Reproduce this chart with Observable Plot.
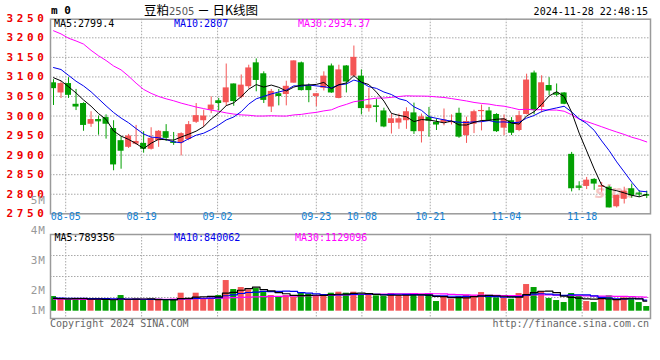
<!DOCTYPE html>
<html><head><meta charset="utf-8">
<script src="https://cdn.jsdelivr.net/npm/d3@7"></script>
<script src="https://cdn.jsdelivr.net/npm/@observablehq/plot@0.6"></script>
<style>
body{margin:0;background:#fff;}
#wrap{position:relative;width:660px;height:360px;overflow:hidden;background:#fff;font-family:"DejaVu Sans Mono",monospace;}
.t{position:absolute;white-space:nowrap;line-height:12px;height:12px;font-size:10px;}
.pl{position:absolute;left:0;top:0;}
</style></head><body><div id="wrap"></div>
<script>
// ---------- data ----------
const dates = ["08-01","08-02","08-05","08-06","08-07","08-08","08-09","08-12","08-13","08-14","08-15","08-16","08-19","08-20","08-21","08-22","08-23","08-26","08-27","08-28","08-29","08-30",
"09-02","09-03","09-04","09-05","09-06","09-09","09-10","09-11","09-12","09-13","09-18","09-19","09-20","09-23","09-24","09-25","09-26","09-27","09-30",
"10-08","10-09","10-10","10-11","10-14","10-15","10-16","10-17","10-18","10-21","10-22","10-23","10-24","10-25","10-28","10-29","10-30","10-31",
"11-01","11-04","11-05","11-06","11-07","11-08","11-11","11-12","11-13","11-14","11-15","11-18","11-19","11-20","11-21","11-22","11-25","11-26","11-27","11-28","11-29"];
const openP  = [3085,3059,3083,3030,3032,2979,2991,2996,2968,2937,2920,2928,2930,2915,2937,2960,2934,2931,2940,2984,2988,3015,3039,3034,3082,3048,3075,3136,3108,3023,3057,3055,3084,3136,3076,3050,3071,3128,3045,3128,3102,3102,3019,3026,3013,2981,2982,2988,3008,2960,2997,2984,2983,2983,3007,2950,2979,3012,3013,3004,2969,2988,2963,3004,3110,3022,3078,3059,3059,2902,2821,2820,2838,2819,2818,2768,2787,2814,2803,2799];
const closeP = [3070,3083,3053,3023,2976,2991,2988,2979,2875,2910,2949,2935,2915,2943,2961,2943,2930,2955,2978,3001,3000,3028,3032,3072,3037,3079,3123,3091,3040,3063,3050,3076,3141,3065,3065,3057,3102,3059,3118,3087,3150,3019,3028,3022,2972,2993,2993,3011,2960,2998,2987,2977,2990,2986,2946,2986,3011,3014,2988,2960,2992,2956,3001,3092,3014,3085,3064,3056,3030,2814,2818,2836,2826,2821,2765,2797,2808,2796,2801,2795];
const highP  = [3093,3088,3098,3068,3034,3011,3000,3003,2988,2947,2953,2976,2960,2970,2963,2978,2958,2957,2986,3032,3015,3049,3045,3133,3082,3105,3130,3146,3113,3068,3068,3089,3141,3138,3082,3057,3113,3133,3130,3129,3179,3118,3071,3043,3020,3005,3005,3021,3033,3005,3022,2993,3018,3003,3020,2997,3015,3028,3022,3006,3003,2996,3012,3107,3115,3103,3098,3082,3060,2907,2832,2843,2840,2830,2821,2798,2818,2826,2809,2808];
const lowP   = [3027,3045,3045,3014,2961,2971,2951,2941,2860,2864,2917,2926,2905,2913,2920,2935,2925,2898,2937,2981,2971,3006,3013,3025,3025,3044,3069,3062,3032,3009,3026,3026,3084,3064,3034,3024,3064,3058,3044,3059,3100,3003,3010,2983,2970,2954,2966,2966,2953,2931,2946,2963,2975,2977,2943,2930,2955,2962,2986,2958,2950,2950,2960,3003,3003,3008,3052,3049,3029,2806,2809,2812,2810,2805,2765,2765,2775,2790,2792,2789];
const volume = [1145800,937500,937500,937500,937500,989600,885400,833300,833300,1224000,885400,937500,885400,885400,937500,833300,885400,1406300,937500,1406300,
1015600,1015600,1224000,2395800,1692700,1849000,1666700,1770800,1458300,1224000,1145800,1224000,1093800,1380200,1328100,1197900,1197900,1406300,1484400,1406300,
1484400,1250000,1250000,1197900,1145800,1380200,1250000,1250000,1302100,1197900,1302100,755200,1145800,937500,1145800,1250000,1197900,1458300,1093800,1041700,
1041700,937500,1380200,2083300,1849000,1536500,989600,833300,677100,1380200,1197900,755200,677100,937500,1197900,937500,1041700,937500,677100,364600];
// moving-average values before enough history is on the chart
const ma5Head  = [3098,3090,3075,3059];
const ma10Head = [3124,3119,3104,3089,3077,3062,3044,3026,3009];
const ma30Head = [3218,3210,3199,3192,3184,3168,3154,3142,3128,3118,3102,3084,3068,3058,3050,3044,3039,3033,3028,3023,3019,3015,3012,3008,3005,3003,3002,3000,3000];
const vma5Head  = [1000000,980000,970000,975000];
const vma10Head = [1020000,1020000,1010000,1010000,1000000,990000,980000,975000,970000];
const vma30Head = [940000,940000,935000,935000,930000,930000,930000,925000,925000,925000,930000,930000,930000,935000,935000,935000,940000,950000,960000,975000,985000,995000,1010000,1040000,1060000,1085000,1105000,1125000,1140000];
const priceTicks = [3250,3200,3150,3100,3050,3000,2950,2900,2850,2800,2750];
const xTickLabels = ["08-05","08-19","09-02","09-23","10-08","10-21","11-04","11-18"];
const volTickLabels = ["4M","3M","2M","1M"];
const legendMain = ["MA5:2799.4","MA10:2807","MA30:2934.37"];
const legendVol = ["MA5:789356","MA10:840062","MA30:1129096"];

// ---------- build ----------
const RED = "#f45656", GREEN = "#02a002";
const N = dates.length;
const movingAvg = (vals, n, head) => vals.map((_, i) => i < n - 1 ? head[i] : d3.mean(vals.slice(i - n + 1, i + 1)));
const ma5 = movingAvg(closeP, 5, ma5Head), ma10 = movingAvg(closeP, 10, ma10Head), ma30 = movingAvg(closeP, 30, ma30Head);
const vma5 = movingAvg(volume, 5, vma5Head), vma10 = movingAvg(volume, 10, vma10Head), vma30 = movingAvg(volume, 30, vma30Head);
const data = dates.map((d, i) => ({i, date: d, o: openP[i], c: closeP[i], h: highP[i], l: lowP[i], v: volume[i],
  col: closeP[i] >= openP[i] ? RED : GREEN, ma5: ma5[i], ma10: ma10[i], ma30: ma30[i], vma5: vma5[i], vma10: vma10[i], vma30: vma30[i]}));
const xDomain = [-0.4, N - 0.5];
const slot = (xDomain[1] - xDomain[0]) / (N - 1);
const gx = lab => xDomain[0] + dates.indexOf(lab) * slot;  // grid position of a labelled date
const gridXs = xTickLabels.map(gx);
const dot = {stroke: "#a8a8a8", strokeDasharray: "1.5,1.5", strokeWidth: 1};
const HW = 0.4;

const main = Plot.plot({
  width: 660, height: 228, marginLeft: 50, marginRight: 10, marginTop: 18.7, marginBottom: 14.7,
  x: {domain: xDomain, axis: null},
  y: {domain: [2750, 3247.6], axis: null},
  style: {background: "transparent", overflow: "visible"},
  marks: [
    Plot.ruleY(priceTicks.filter(t => t > 2750 && t < 3247), dot),
    Plot.ruleX(gridXs, dot),
    Plot.text(["sina"], {text: d => d, frameAnchor: "bottom-right", dx: -16, dy: -16, fill: "#f3b3b3", fillOpacity: 0.75, fontSize: 17, fontStyle: "italic", fontWeight: "bold", fontFamily: "DejaVu Sans"}),
    Plot.ruleX(data, {x: "i", y1: "l", y2: "h", stroke: "col", strokeWidth: 1}),
    Plot.rect(data, {x1: d => d.i - HW, x2: d => d.i + HW, y1: "o", y2: "c", fill: "col"}),
    Plot.ruleY(data.filter(d => Math.abs(d.o - d.c) < 4), {y: "c", x1: d => d.i - HW, x2: d => d.i + HW, stroke: "col", strokeWidth: 1.2}),
    Plot.line(data, {x: "i", y: "ma30", stroke: "#ff00ff", strokeWidth: 1}),
    Plot.line(data, {x: "i", y: "ma10", stroke: "#0000ee", strokeWidth: 1}),
    Plot.line(data, {x: "i", y: "ma5", stroke: "#000", strokeWidth: 1}),
    Plot.frame({stroke: "#9a9a9a", strokeWidth: 1.5}),
    Plot.text(priceTicks, {y: d => d, text: d => String(d), frameAnchor: "left", dx: -3, textAnchor: "end", fill: "#ee0000", fontSize: 11, fontWeight: "bold", fontFamily: "DejaVu Sans Mono"}),
    Plot.text(xTickLabels, {x: gx, text: d => d, frameAnchor: "bottom", dy: 6, fill: "#1283d6", fontSize: 10, fontFamily: "DejaVu Sans Mono"})
  ]
});
main.classList.add("pl");
d3.select(main).selectAll('g[aria-label="text"]').filter(function(){ return this.getAttribute("fill") === "#ee0000"; }).style("letter-spacing", "3.6px");

const vol = Plot.plot({
  width: 660, height: 100, marginLeft: 50, marginRight: 10, marginTop: 6, marginBottom: 10,
  x: {domain: xDomain, axis: null},
  y: {domain: [0, 6e6], range: [82.7, 82.7 - 6 * 12.8], axis: null},
  style: {background: "transparent"},
  marks: [
    Plot.ruleY([4.35e6, 2.71e6, 1.07e6], dot),
    Plot.ruleX(gridXs, dot),
    Plot.rect(data, {x1: d => d.i - HW, x2: d => d.i + HW, y1: 0, y2: "v", fill: "col"}),
    Plot.line(data, {x: "i", y: "vma30", stroke: "#ff00ff", strokeWidth: 1.2, curve: "step"}),
    Plot.line(data, {x: "i", y: "vma10", stroke: "#0000ee", strokeWidth: 1.2, curve: "step"}),
    Plot.line(data, {x: "i", y: "vma5", stroke: "#000", strokeWidth: 1.2, curve: "step"}),
    Plot.frame({stroke: "#9a9a9a", strokeWidth: 1.5})
  ]
});
vol.classList.add("pl");
vol.style.top = "228px";

const wrap = document.getElementById("wrap");
wrap.appendChild(main);
wrap.appendChild(vol);

function label(text, css) {
  const el = document.createElement("div");
  el.className = "t";
  el.textContent = text;
  Object.assign(el.style, css);
  wrap.appendChild(el);
  return el;
}
label("m 0", {left: "51px", top: "5px", fontWeight: "bold", fontSize: "11px", color: "#000"});
const title = document.createElement("div");
title.className = "t";
Object.assign(title.style, {left: "140px", width: "122px", top: "3px", height: "14px", lineHeight: "14px", textAlign: "center", fontFamily: '"Noto Sans CJK SC", sans-serif', fontSize: "12.5px", color: "#000"});
title.innerHTML = '豆粕<span style="font-family:\'DejaVu Sans\';font-size:10px;color:#555">2505</span> － 日K线图';
wrap.appendChild(title);
label("2024-11-28 22:48:15", {right: "12px", top: "6px", color: "#000"});
const mainLegendX = [54, 174, 298], legendColors = ["#000", "#0000ee", "#ff00ff"];
legendMain.forEach((t, k) => label(t, {left: mainLegendX[k] + "px", top: "18px", color: legendColors[k]}));
const volLegendX = [54.5, 174, 295];
legendVol.forEach((t, k) => label(t, {left: volLegendX[k] + "px", top: "232px", color: legendColors[k]}));
const volLabelY = [231, 261, 291, 310.5];
volTickLabels.forEach((t, k) => label(t, {right: "614px", top: (volLabelY[k] - 6) + "px", color: "#999", fontSize: "11px", letterSpacing: "1px"}));
label("5M", {right: "614px", top: "195px", color: "#999", fontSize: "11px", letterSpacing: "1px"});
label("Copyright 2024 SINA.COM", {left: "50px", top: "318px", color: "#666"});
label("http://finance.sina.com.cn", {right: "11px", top: "318px", color: "#666"});
</script></body></html>
